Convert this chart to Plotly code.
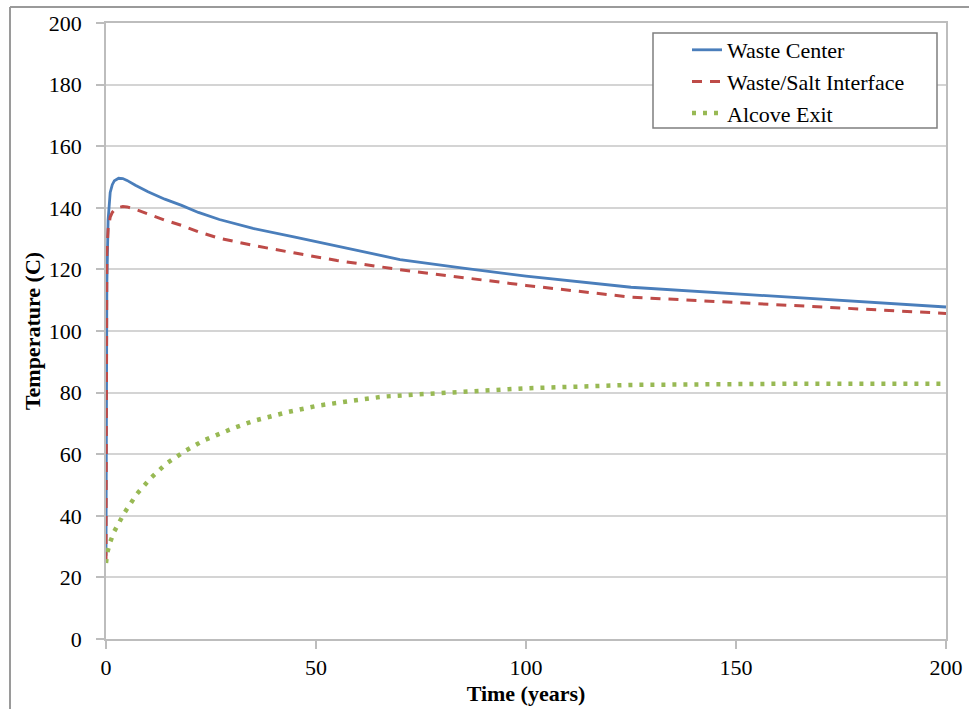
import plotly.graph_objects as go

# Simulated temperatures over 200 years
time_waste = [0, 0.1, 0.2, 0.5, 1, 1.5, 2, 3, 4, 5, 7, 10, 14, 18, 22, 27,
              35, 45, 55, 70, 85, 100, 125, 150, 175, 200]
waste_center = [27, 80, 115, 136, 145, 147.5, 148.8, 149.6, 149.5, 148.9,
                147.3, 145.2, 142.8, 140.8, 138.5, 136.2, 133.3, 130.5,
                127.6, 123.2, 120.4, 117.8, 114.2, 112.0, 109.9, 107.8]
waste_salt = [25, 90, 125, 133, 137, 138.5, 139.3, 140.1, 140.4, 140.3,
              139.5, 138.0, 136.0, 134.3, 132.2, 130.1, 127.8, 125.3,
              122.9, 119.9, 117.3, 114.8, 111.0, 109.2, 107.4, 105.7]

time_alcove = [0, 0.3, 1, 2, 4.4, 7.3, 10.7, 14.4, 18.8, 23.3, 30.6, 35.4,
               43, 50.6, 58.4, 66, 74, 84, 92, 100, 125, 150, 165, 200]
alcove_exit = [24.7, 28, 31.5, 35, 41, 47, 52.3, 57, 61, 64.5, 68.6, 70.9,
               73.6, 75.8, 77.3, 78.7, 79.4, 80.3, 80.8, 81.4, 82.5, 82.8,
               82.9, 82.9]

x_ticks = [0, 50, 100, 150, 200]
y_ticks = [0, 20, 40, 60, 80, 100, 120, 140, 160, 180, 200]

FONT = "Liberation Serif"
W, H = 969, 709
L, R, T, B = 106, 23, 23, 70
PW, PH = W - L - R, H - T - B


def px_x(p):
    return (p - L) / PW


def px_y(p):
    return (H - B - p) / PH


fig = go.Figure()
fig.add_trace(go.Scatter(
    x=time_waste, y=waste_center, mode="lines", name="Waste Center",
    legendgroup="a",
    line=dict(color="#4A7EBB", width=2.8)))
fig.add_trace(go.Scatter(
    x=time_waste, y=waste_salt, mode="lines", name="Waste/Salt Interface",
    legendgroup="b",
    line=dict(color="#BE4B48", width=3, dash="10px,8px")))
fig.add_trace(go.Scatter(
    x=time_alcove, y=alcove_exit, mode="lines", name="Alcove Exit",
    legendgroup="c",
    line=dict(color="#98B954", width=4.5, dash="4px,7px")))

axis_common = dict(
    showline=True, linecolor="#BDBDBD", linewidth=1.5, mirror=True,
    ticks="outside", ticklen=8, tickcolor="#BDBDBD", tickwidth=1.5,
    tickfont=dict(family=FONT, size=22, color="#000000"),
    zeroline=False, automargin=False,
)

fig.update_xaxes(
    range=[0, 200], tickvals=x_ticks, showgrid=False,
    title=dict(text="<b>Time (years)</b>", font=dict(family=FONT, size=22, color="#000000"),
               standoff=6),
    **axis_common)
fig.update_yaxes(
    range=[0, 200], tickvals=y_ticks, showgrid=True,
    gridcolor="#D4D4D4", gridwidth=1.5,
    ticklabelstandoff=10,
    title=dict(text="<b>Temperature (C)</b>", font=dict(family=FONT, size=22, color="#000000"),
               standoff=2),
    **axis_common)

shapes = [
    # outer chart frame (left and top edges)
    dict(type="line", xref="paper", yref="paper",
         x0=px_x(10), x1=px_x(10), y0=px_y(720), y1=px_y(7),
         line=dict(color="#9A9A9A", width=2)),
    dict(type="line", xref="paper", yref="paper",
         x0=px_x(10), x1=px_x(980), y0=px_y(7), y1=px_y(7),
         line=dict(color="#9A9A9A", width=2)),
    # legend box
    dict(type="rect", xref="paper", yref="paper", layer="above",
         x0=px_x(653), x1=px_x(937), y0=px_y(128), y1=px_y(33),
         fillcolor="#FFFFFF", line=dict(color="#7F7F7F", width=1.5)),
]

fig.update_layout(
    width=W, height=H,
    margin=dict(l=L, r=R, t=T, b=B),
    paper_bgcolor="#FFFFFF", plot_bgcolor="#FFFFFF",
    showlegend=True,
    legend=dict(
        x=px_x(687), y=px_y(29), xanchor="left", yanchor="top",
        bgcolor="rgba(0,0,0,0)", borderwidth=0,
        font=dict(family=FONT, size=22, color="#000000"),
        tracegroupgap=3, traceorder="normal",
    ),
    shapes=shapes,
)

fig.write_html("out.html")
